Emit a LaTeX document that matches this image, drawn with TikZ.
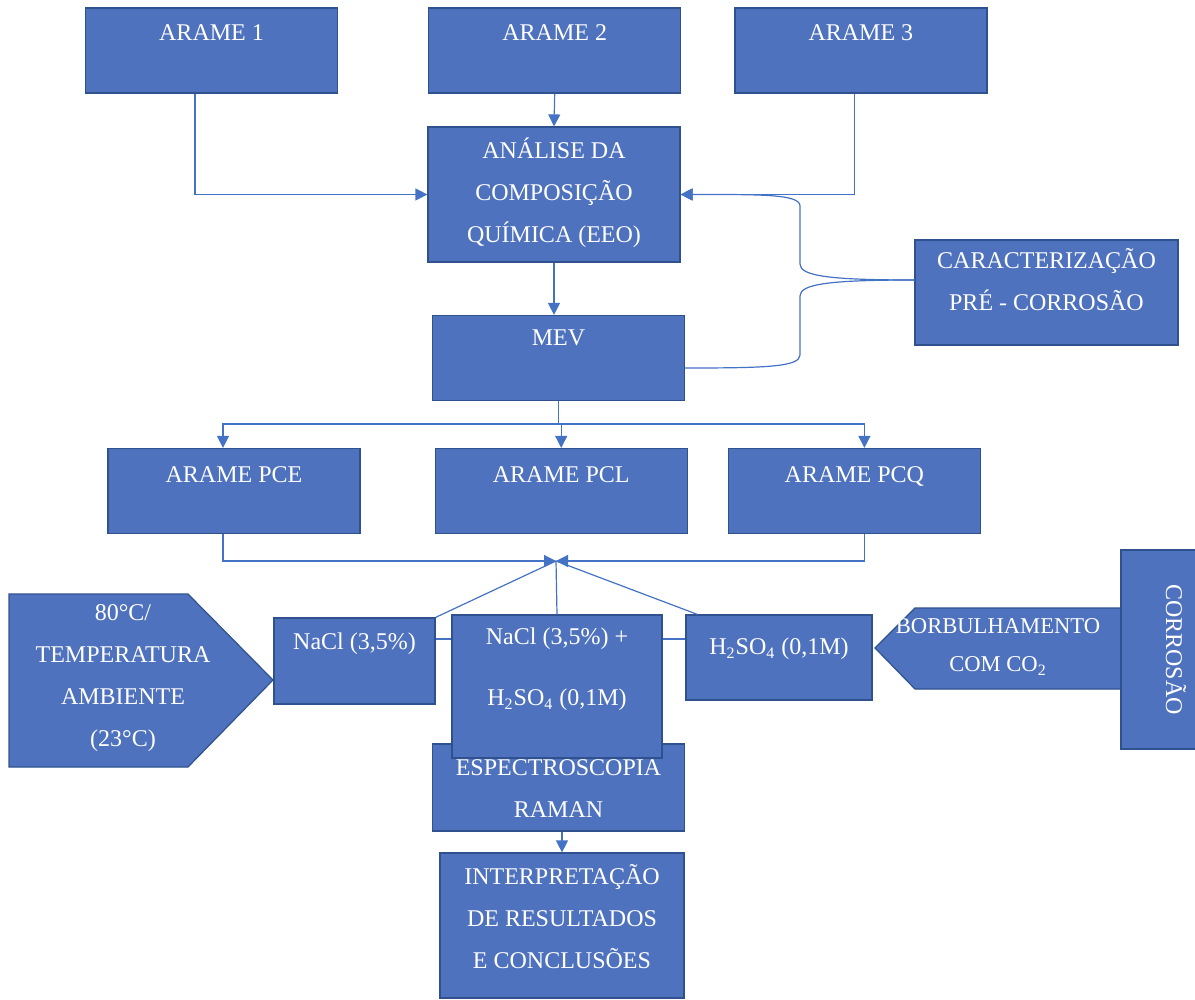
\documentclass[tikz,border=0pt]{standalone}
\usepackage{fontspec}
\setmainfont{Liberation Serif}
\usetikzlibrary{positioning}
\usetikzlibrary{arrows.meta}

\definecolor{boxblue}{HTML}{4F72BE}
\definecolor{boxedge}{HTML}{2F528F}
\definecolor{linkblue}{HTML}{4472C4}
\newcommand{\boxfont}{\fontsize{12}{21}\selectfont}
\newcommand{\topstrut}{\rule{0pt}{11pt}}

\begin{document}
\begin{tikzpicture}[
    x=0.5pt, y=-0.5pt,
    box/.style={draw=boxedge, fill=boxblue, line width=0.6pt, inner sep=0pt},
    stdbox/.style={box, minimum width=126pt, minimum height=42.5pt},
    boxtext/.style={anchor=north, inner sep=0pt, text=white, align=center, font=\boxfont,
                    execute at begin node=\topstrut},
    conn/.style={draw=linkblue, line width=0.6pt},
    >={Triangle[length=6pt, width=6pt]}  % Arrow style
]
    \useasboundingbox (0,0) rectangle (1195,1000);

    % Wires
    \node[stdbox, label={[boxtext, yshift=-5.5pt]north:ARAME 1}] (arame1) at (211.5,50.5) {};
    \node[stdbox, right=45pt of arame1, label={[boxtext, yshift=-5.5pt]north:ARAME 2}] (arame2) {};
    \node[stdbox, right=26.5pt of arame2, label={[boxtext, yshift=-5.5pt]north:ARAME 3}] (arame3) {};

    % Pre-corrosion characterisation
    \node[box, minimum width=126pt, minimum height=67.5pt,
          label={[boxtext, yshift=-5.5pt]north:ANÁLISE DA\\COMPOSIÇÃO\\QUÍMICA (EEO)}] (analise) at (554,194.5) {};
    \node[stdbox, label={[boxtext, yshift=-4pt]north:MEV}] (mev) at (558.5,358) {};
    \node[box, minimum width=131.5pt, minimum height=52.5pt,
          label={[boxtext, yshift=-4.5pt]north:CARACTERIZAÇÃO\\PRÉ - CORROSÃO}] (carac) at (1046.5,292.5) {};

    % Wire groups
    \node[stdbox, label={[boxtext, yshift=-6pt]north:ARAME PCE}] (pce) at (234,491) {};
    \node[stdbox, right=37pt of pce, label={[boxtext, yshift=-6pt]north:ARAME PCL}] (pcl) {};
    \node[stdbox, right=20pt of pcl, label={[boxtext, yshift=-6pt]north:ARAME PCQ}] (pcq) {};

    % Media
    \node[box, minimum width=80.5pt, minimum height=43pt,
          label={[boxtext, yshift=-5pt]north:NaCl (3,5\%)}] (nacl) at (354.5,661) {};
    \node[box, minimum width=93pt, minimum height=42.5pt,
          label={[boxtext, yshift=-9pt]north:H\textsubscript{2}SO\textsubscript{4} (0,1M)}] (acido) at (779,657.5) {};
    \node[stdbox, minimum height=43.5pt,
          label={[boxtext, yshift=-8pt]north:ESPECTROSCOPIA\\RAMAN}] (raman) at (558.5,787.5) {};
    \node[box, minimum width=105pt, minimum height=71.5pt,
          label={[boxtext, yshift=-6.5pt]north:NaCl (3,5\%) +\\[9.5pt]H\textsubscript{2}SO\textsubscript{4} (0,1M)}] (mistura) at (557,686.5) {};
    \node[box, minimum width=122pt, minimum height=72.5pt,
          label={[boxtext, yshift=-6pt]north:INTERPRETAÇÃO\\DE RESULTADOS\\E CONCLUSÕES}] (interp) at (562,925.5) {};

    % Conditions
    \filldraw[box] (9,594) -- (188,594) -- (273,680) -- (188,767) -- (9,767) -- cycle;
    \node[boxtext] (temperatura) at (123,604) {80°C/\\TEMPERATURA\\AMBIENTE\\(23°C)};
    \filldraw[box] (875,648) -- (915,608) -- (1121,608) -- (1121,689) -- (915,689) -- cycle;
    \node[boxtext, font=\fontsize{11.3}{19}\selectfont] (borbulha) at (998,618.5) {BORBULHAMENTO\\COM CO\textsubscript{2}};
    \node[box, rotate=-90, minimum width=99.5pt, minimum height=55pt, text=white, font=\boxfont] (corrosao) at (1176,649.5) {CORROSÃO};

    % Bend and junction points
    \coordinate (curvaA1) at (800,264);
    \coordinate (curvaA2) at (800,206);
    \coordinate (curvaB1) at (800,296);
    \coordinate (curvaB2) at (800,355);
    \coordinate (split) at ([yshift=-11.5pt]mev.south);
    \coordinate (hub) at (556,561);

    % Connections
    \draw[conn,->] ([xshift=-8.25pt]arame1.south) |- (analise.west);
    \draw[conn,->] (arame2.south) -- (analise.north);
    \draw[conn,->] ([xshift=-3.25pt]arame3.south) |- (analise.east);
    \draw[conn,->] (analise.south) -- (analise.south |- mev.north);
    \draw[conn,->] ([yshift=6.25pt]carac.west) .. controls +(-85,0) and +(0,12) .. (curvaA1)
        -- (curvaA2) .. controls +(0,-12) and +(80,0) .. (analise.east);
    \draw[conn] ([yshift=6.25pt]carac.west) .. controls +(-85,0) and +(0,-12) .. (curvaB1)
        -- (curvaB2) .. controls +(0,12) and +(80,0) .. ([yshift=-5pt]mev.east);
    \draw[conn] (mev.south) -- (split);
    \draw[conn,->] (split) -| ([xshift=-5.5pt]pce.north);
    \draw[conn,->] (split) -| (pcl.north);
    \draw[conn,->] (split) -| ([xshift=5pt]pcq.north);
    \draw[conn,->] ([xshift=-5.5pt]pce.south) |- (hub);
    \draw[conn,->] ([xshift=5pt]pcq.south) |- (hub);
    \draw[conn] (hub) -- (nacl.north east);
    \draw[conn] (hub) -- (mistura.north);
    \draw[conn] (hub) -- ([xshift=6pt]acido.north west);
    \draw[conn] ([yshift=11pt]nacl.east) -- ([yshift=11pt]nacl.east -| mistura.west);
    \draw[conn] ([yshift=9.25pt]acido.west) -- ([yshift=9.25pt]acido.west -| mistura.east);
    \draw[conn,->] (interp.north |- raman.south) -- (interp.north);
\end{tikzpicture}
\end{document}
